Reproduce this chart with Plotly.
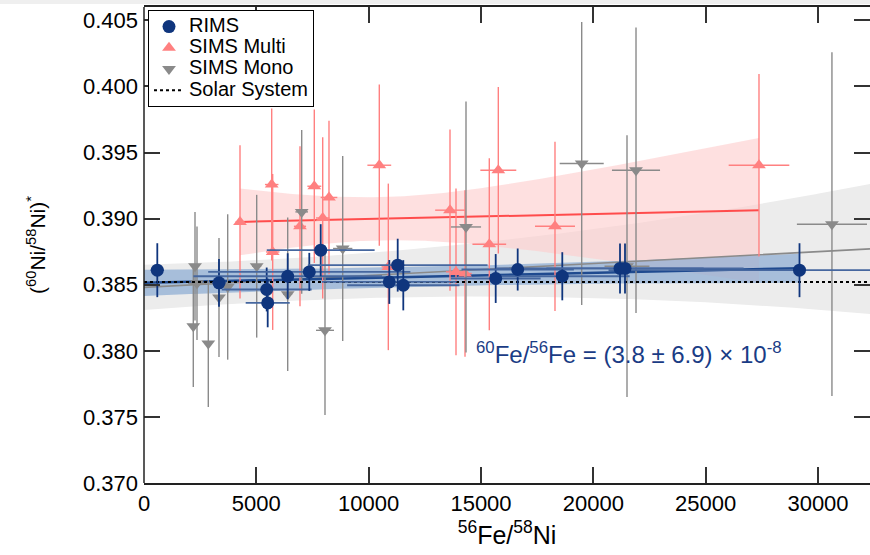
import numpy as np
import plotly.graph_objects as go

# ---------------- data ----------------
# RIMS
rims_x = [592, 3338, 5461, 5506, 6396, 7357, 7865, 10918, 11292, 11541,
          15654, 16633, 18618, 21187, 21409, 29176]
rims_y = [0.38610, 0.38514, 0.38464, 0.38362, 0.38564, 0.38597, 0.38761,
          0.38521, 0.38648, 0.38496, 0.38547, 0.38615, 0.38564, 0.38623,
          0.38623, 0.38610]
rims_xerr = [300, 300, 2000, 980, 4200, 4500, 2400, 3000, 4000, 2500,
             2000, 2500, 3000, 5500, 3500, 8500]
rims_yerr = [0.00204, 0.0018, 0.00166, 0.00184, 0.00174, 0.00144, 0.00197,
             0.00166, 0.0020, 0.0019, 0.00185, 0.00159, 0.00182, 0.00189,
             0.00189, 0.00204]

# SIMS Multi
multi_x = [4273, 5684, 5728, 6943, 7580, 7954, 8234, 10473, 10874, 13620,
           13887, 14288, 15369, 15770, 18293, 27373]
multi_y = [0.38975, 0.39258, 0.38748, 0.38942, 0.39245, 0.39005, 0.39160,
           0.39404, 0.38635, 0.39064, 0.38597, 0.38585, 0.38806, 0.39366,
           0.38942, 0.39404]
multi_xerr = [200, 300, 300, 270, 310, 300, 370, 530, 300, 660, 450, 300,
              750, 800, 890, 1350]
multi_yerr = [0.0058, 0.00575, 0.0059, 0.00605, 0.0058, 0.0061, 0.0058,
              0.0061, 0.0063, 0.0061, 0.0063, 0.0063, 0.0065, 0.0063,
              0.0064, 0.0069]

# SIMS Mono
mono_x = [2270, 2194, 2359, 2862, 3338, 3725, 5016, 6396, 7019, 8056, 8844,
          14332, 19482, 21498, 21899, 30620]
mono_y = [0.38640, 0.38186, 0.38511, 0.38055, 0.38403, 0.38483, 0.38640,
          0.38428, 0.39051, 0.38155, 0.38774, 0.38937, 0.39417, 0.38640,
          0.39366, 0.38958]
mono_xerr = [150, 150, 400, 150, 150, 150, 200, 200, 280, 400, 430, 670,
             980, 1000, 1070, 1560]
mono_yerr = [0.0041, 0.0046, 0.0043, 0.0048, 0.0045, 0.0055, 0.0054, 0.0058,
             0.0062, 0.0064, 0.0070, 0.0095, 0.0107, 0.0099, 0.0108, 0.0130]

solar_ratio = 0.38521

# regression fits (intercept, slope) and confidence-band parameters
rims_fit = dict(b0=0.38514, b1=3.8e-8, a=0.00075, x0=13000, s=15000)
multi_fit = dict(b0=0.38959, b1=3.8e-8, a=0.00163, x0=10500, s=5260)
mono_fit = dict(b0=0.3848, b1=9.0e-8, a=0.0016, x0=5000, c=4.45e-12)

x_ticks = [0, 5000, 10000, 15000, 20000, 25000, 30000]
y_ticks = [0.370, 0.375, 0.380, 0.385, 0.390, 0.395, 0.400, 0.405]
X_RANGE = [0, 32314]
Y_RANGE = [0.370, 0.40601]

# ---------------- colours ----------------
BLUE = "#0f357d"
BLUE_ERR_X = "#46679f"
BLUE_LINE = "#1f4a8f"
BLUE_BAND = "rgba(140,172,210,0.72)"
PINK = "#ff8080"
RED_LINE = "#ff4c4c"
PINK_BAND = "rgba(253,205,205,0.62)"
GRAY = "#8a8a8a"
GRAY_LINE = "#8a8a8a"
GRAY_BAND = "#ececec"

FONT = "Liberation Sans, Arial, Helvetica, sans-serif"

fig = go.Figure()


def hyper_band(fit, xmin, xmax):
    xx = np.linspace(xmin, xmax, 200)
    yy = fit["b0"] + fit["b1"] * xx
    hw = fit["a"] * np.sqrt(1 + ((xx - fit["x0"]) / fit["s"]) ** 2)
    return xx, yy, hw


# gray (SIMS Mono) band + line
xg = np.linspace(X_RANGE[0], X_RANGE[1], 200)
yg = mono_fit["b0"] + mono_fit["b1"] * xg
hwg = mono_fit["a"] + mono_fit["c"] * (xg - mono_fit["x0"]) ** 2
fig.add_trace(go.Scatter(x=np.concatenate([xg, xg[::-1]]),
                         y=np.concatenate([yg + hwg, (yg - hwg)[::-1]]),
                         fill="toself", fillcolor=GRAY_BAND, line=dict(width=0),
                         mode="lines", showlegend=False, hoverinfo="skip"))

# pink (SIMS Multi) band
xp, yp, hwp = hyper_band(multi_fit, min(multi_x), max(multi_x))
fig.add_trace(go.Scatter(x=np.concatenate([xp, xp[::-1]]),
                         y=np.concatenate([yp + hwp, (yp - hwp)[::-1]]),
                         fill="toself", fillcolor=PINK_BAND, line=dict(width=0),
                         mode="lines", showlegend=False, hoverinfo="skip"))

# blue (RIMS) band
xb, yb, hwb = hyper_band(rims_fit, 0, max(rims_x))
fig.add_trace(go.Scatter(x=np.concatenate([xb, xb[::-1]]),
                         y=np.concatenate([yb + hwb, (yb - hwb)[::-1]]),
                         fill="toself", fillcolor=BLUE_BAND, line=dict(width=0),
                         mode="lines", showlegend=False, hoverinfo="skip"))

# fit lines
fig.add_trace(go.Scatter(x=xg, y=yg, mode="lines",
                         line=dict(color=GRAY_LINE, width=1.6),
                         showlegend=False, hoverinfo="skip"))
fig.add_trace(go.Scatter(x=xp, y=yp, mode="lines",
                         line=dict(color=RED_LINE, width=2),
                         showlegend=False, hoverinfo="skip"))
fig.add_trace(go.Scatter(x=xb, y=yb, mode="lines",
                         line=dict(color=BLUE_LINE, width=2.5),
                         showlegend=False, hoverinfo="skip"))


def lg(name):
    return "<span style='font-size:20px'>" + name + "</span>"


# SIMS Multi points
fig.add_trace(go.Scatter(
    x=multi_x, y=multi_y, mode="markers", name=lg("SIMS Multi"),
    marker=dict(symbol="triangle-up", size=12, color=PINK),
    error_x=dict(type="data", array=multi_xerr, color=PINK, thickness=1.4, width=0),
    error_y=dict(type="data", array=multi_yerr, color=PINK, thickness=1.4, width=0),
    legendrank=2))

# SIMS Mono points
fig.add_trace(go.Scatter(
    x=mono_x, y=mono_y, mode="markers", name=lg("SIMS Mono"),
    marker=dict(symbol="triangle-down", size=12, color=GRAY),
    error_x=dict(type="data", array=mono_xerr, color=GRAY, thickness=1.4, width=0),
    error_y=dict(type="data", array=mono_yerr, color=GRAY, thickness=1.4, width=0),
    legendrank=3))

# solar system reference line
fig.add_trace(go.Scatter(
    x=X_RANGE, y=[solar_ratio, solar_ratio], mode="lines", name=lg("Solar System"),
    line=dict(color="black", width=2, dash="dot"), legendrank=4))

# RIMS points
fig.add_trace(go.Scatter(
    x=rims_x, y=rims_y, mode="markers", name=lg("RIMS"),
    marker=dict(symbol="circle", size=13, color=BLUE),
    error_x=dict(type="data", array=rims_xerr, color=BLUE_ERR_X, thickness=1.8, width=0),
    error_y=dict(type="data", array=rims_yerr, color=BLUE, thickness=1.8, width=0),
    legendrank=1))

fig.add_annotation(
    x=21600, y=0.37985, xref="x", yref="y",
    text="<sup>60</sup>Fe/<sup>56</sup>Fe = (3.8 ± 6.9) × 10<sup>-8</sup>",
    showarrow=False, font=dict(family=FONT, size=24, color="#1a3c85"),
    xanchor="center", yanchor="middle")

# light strip at the very top (screenshot chrome)
fig.add_shape(type="rect", xref="paper", yref="paper",
              x0=-0.3, x1=1.01, y0=1 + 3 / 476, y1=1 + 7.5 / 476,
              fillcolor="#efefef", line=dict(width=0), layer="below")
# left frame line
fig.add_shape(type="line", xref="paper", yref="paper", x0=0, x1=0, y0=0, y1=1,
              line=dict(color="#222", width=1.5))

fig.update_layout(
    width=870, height=555,
    margin=dict(l=144, r=0, t=7, b=72),
    paper_bgcolor="white", plot_bgcolor="white",
    font=dict(family=FONT, color="black"),
    showlegend=True,
    legend=dict(x=4 / 726, y=1 - 3 / 476, xanchor="left", yanchor="top",
                bgcolor="white", bordercolor="black", borderwidth=1,
                font=dict(family=FONT, size=14, color="black"),
                traceorder="normal"),
    xaxis=dict(range=X_RANGE, tickvals=x_ticks, tickformat="d",
               ticks="inside", ticklen=16, tickwidth=1.5, tickcolor="#333",
               showline=True, linecolor="#222", linewidth=1.5, mirror="ticks",
               showgrid=False, zeroline=False,
               tickfont=dict(family=FONT, size=22, color="black"),
               title=dict(text="<sup>56</sup>Fe/<sup>58</sup>Ni",
                          font=dict(family=FONT, size=25, color="black"),
                          standoff=11)),
    yaxis=dict(range=Y_RANGE, tickvals=y_ticks, tickformat=".3f",
               ticks="inside", ticklen=16, tickwidth=1.5, tickcolor="#333",
               showline=False, mirror="ticks",
               showgrid=False, zeroline=False, ticklabelstandoff=5,
               tickfont=dict(family=FONT, size=22, color="black"),
               title=dict(text="(<sup>60</sup>Ni/<sup>58</sup>Ni)<sup>*</sup>",
                          font=dict(family=FONT, size=21, color="black"),
                          standoff=31)),
)

fig.write_html("out.html")
